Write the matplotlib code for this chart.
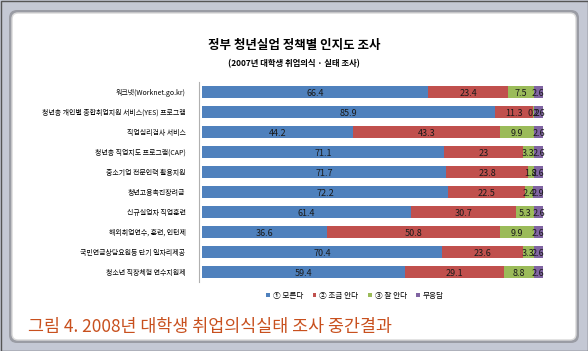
import numpy as np
import matplotlib.pyplot as plt
from matplotlib.patches import FancyBboxPatch, Rectangle

plt.rcParams['font.family'] = ['Noto Sans CJK KR', 'DejaVu Sans']

# 데이터
policies = ['워크넷(Worknet.go.kr)',
            '청년층 개인별 종합취업지원 서비스(YES) 프로그램',
            '직업심리검사 서비스',
            '청년층 직업지도 프로그램(CAP)',
            '중소기업 전문인력 활용지원',
            '청년고용촉진장려금',
            '신규실업자 직업훈련',
            '해외취업연수, 훈련, 인턴제',
            '국민연금상담요원등 단기 일자리제공',
            '청소년 직장체험 연수지원제']
dont_know = [66.4, 85.9, 44.2, 71.1, 71.7, 72.2, 61.4, 36.6, 70.4, 59.4]
know_little = [23.4, 11.3, 43.3, 23, 23.8, 22.5, 30.7, 50.8, 23.6, 29.1]
know_well = [7.5, 0.2, 9.9, 3.3, 1.8, 2.4, 5.3, 9.9, 3.3, 8.8]
no_answer = [2.6, 2.6, 2.6, 2.6, 2.6, 2.9, 2.6, 2.6, 2.6, 2.6]
series_names = ['① 모른다', '② 조금 안다', '③ 잘 안다', '무응답']
colors = ['#4F81BD', '#C0504D', '#9BBB59', '#8064A2']

fig = plt.figure(figsize=(5.88, 3.51), dpi=100)
fig.patch.set_facecolor('#c4c8d4')

# 흰색 패널 (액자 느낌)
bg = fig.add_axes([0, 0, 1, 1])
bg.set_xlim(0, 588)
bg.set_ylim(351, 0)
bg.axis('off')
bg.add_patch(Rectangle((0.5, 0.5), 587, 350, fill=False, edgecolor='#555555', lw=1))
bg.add_patch(FancyBboxPatch((9, 10), 570, 333, boxstyle='round,pad=0,rounding_size=8',
                            facecolor='#9a9ca4', edgecolor='none'))
bg.add_patch(FancyBboxPatch((12, 13), 564, 327, boxstyle='round,pad=0,rounding_size=6',
                            facecolor='white', edgecolor='#d8d8d8', lw=1))

fig.text(0.5, 1 - 45 / 351, '정부 청년실업 정책별 인지도 조사', ha='center', va='center',
         fontsize=9, fontweight='bold')
fig.text(0.5, 1 - 64 / 351, '(2007년 대학생 취업의식 · 실태 조사)', ha='center', va='center',
         fontsize=6, fontweight='bold')

ax = fig.add_axes([202 / 588, 1 - 282 / 351, 341 / 588, 200 / 351])
for s in ['top', 'right', 'bottom']:
    ax.spines[s].set_visible(False)
ax.spines['left'].set_color('#b0b0b0')
ax.spines['left'].set_position(('data', -0.8))

y = np.arange(len(policies))
data = [dont_know, know_little, know_well, no_answer]
left = np.zeros(len(policies))
for vals, name, c in zip(data, series_names, colors):
    vals = np.array(vals)
    ax.barh(y, vals, left=left, height=0.62, color=c, edgecolor='none', label=name)
    for yi, l, v in zip(y, left, vals):
        ax.text(l + v / 2, yi + 0.08, f'{v:g}', ha='center', va='center', fontsize=6.5,
                color='#1a1a1a')
    left += vals

ax.set_xlim(0, 100)
ax.set_ylim(len(policies) - 0.5, -0.5)
ax.set_yticks(y)
ax.set_yticklabels(policies)
ax.tick_params(axis='y', length=0, pad=10, labelsize=5)
ax.set_xticks([])

fig.legend(loc='center', bbox_to_anchor=(355 / 588, 1 - 296 / 351), ncol=4, fontsize=5.5,
           frameon=False, handlelength=0.5, handleheight=0.5, columnspacing=1.2,
           handletextpad=0.4)

fig.text(28 / 588, 1 - 327 / 351, '그림 4. 2008년 대학생 취업의식실태 조사 중간결과',
         ha='left', va='center', fontsize=12.5, color='#C8501E')

plt.savefig('out.png', dpi=100)
